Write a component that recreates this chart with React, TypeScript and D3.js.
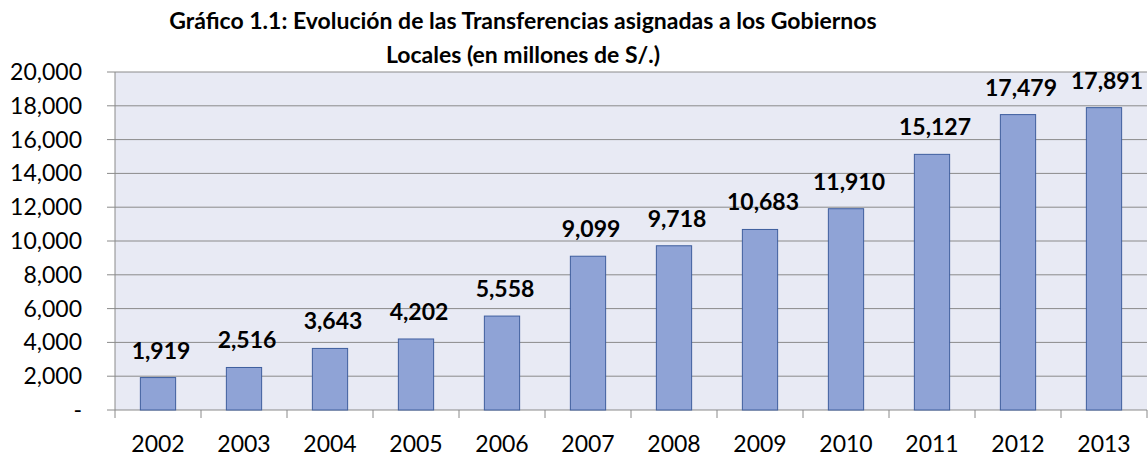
import React from "react";
import * as d3 from "d3";

const years = ["2002", "2003", "2004", "2005", "2006", "2007", "2008", "2009", "2010", "2011", "2012", "2013"];
const values = [1919, 2516, 3643, 4202, 5558, 9099, 9718, 10683, 11910, 15127, 17479, 17891];
const yTicks = [0, 2000, 4000, 6000, 8000, 10000, 12000, 14000, 16000, 18000, 20000];
const titleLines = [
  "Gráfico 1.1: Evolución de las Transferencias asignadas a los Gobiernos",
  "Locales (en millones de S/.)",
];

const W = 1148;
const H = 457;
const margin = { top: 72, right: 1, bottom: 47, left: 115 };
const font = "Lato, 'Open Sans', sans-serif";

export default function App() {
  const innerW = W - margin.left - margin.right;
  const innerH = H - margin.top - margin.bottom;

  const x = d3.scaleBand().domain(years).range([0, innerW]).paddingInner(0.59).paddingOuter(0.295);
  const xb = d3.scaleBand().domain(years).range([0, innerW]);
  const y = d3.scaleLinear().domain([0, 20000]).range([innerH, 0]);
  const fmt = d3.format(",");

  return (
    <svg width={W} height={H} style={{ position: "absolute", left: 0, top: 0 }}>
      <rect width={W} height={H} fill="#ffffff" />
      {titleLines.map((t, i) => (
        <text key={i} x={523} y={29 + i * 34} textAnchor="middle" fontFamily={font} fontWeight="bold" fontSize={23} fill="#000">
          {t}
        </text>
      ))}
      <g transform={`translate(${margin.left},${margin.top})`}>
        <rect width={innerW} height={innerH} fill="#E8EAF4" />
        {yTicks.map(t => (
          <g key={t} transform={`translate(0,${y(t)})`}>
            <line x1={-8} x2={innerW} stroke="#8a8a8a" strokeWidth={1} />
            <text x={-33} dy="0.35em" textAnchor="end" fontFamily={font} fontSize={23} fill="#000">
              {t === 0 ? "-" : fmt(t)}
            </text>
          </g>
        ))}
        <line x1={0} x2={0} y1={0} y2={innerH + 8} stroke="#8a8a8a" />
        {years.map(yr => (
          <line key={yr} x1={xb(yr)! + xb.bandwidth()} x2={xb(yr)! + xb.bandwidth()} y1={innerH} y2={innerH + 8} stroke="#8a8a8a" />
        ))}
        {years.map((yr, i) => (
          <g key={yr}>
            <rect
              x={x(yr)!}
              y={y(values[i])}
              width={x.bandwidth()}
              height={innerH - y(values[i])}
              fill="#8FA3D6"
              stroke="#3E5E9E"
              strokeWidth={1}
            />
            <text x={x(yr)! + x.bandwidth() / 2 + 3} y={y(values[i]) - 19} textAnchor="middle" fontFamily={font} fontWeight="bold" fontSize={23} fill="#000">
              {fmt(values[i])}
            </text>
            <text x={xb(yr)! + xb.bandwidth() / 2} y={innerH + 42} textAnchor="middle" fontFamily={font} fontSize={23} fill="#000">
              {yr}
            </text>
          </g>
        ))}
      </g>
    </svg>
  );
}
